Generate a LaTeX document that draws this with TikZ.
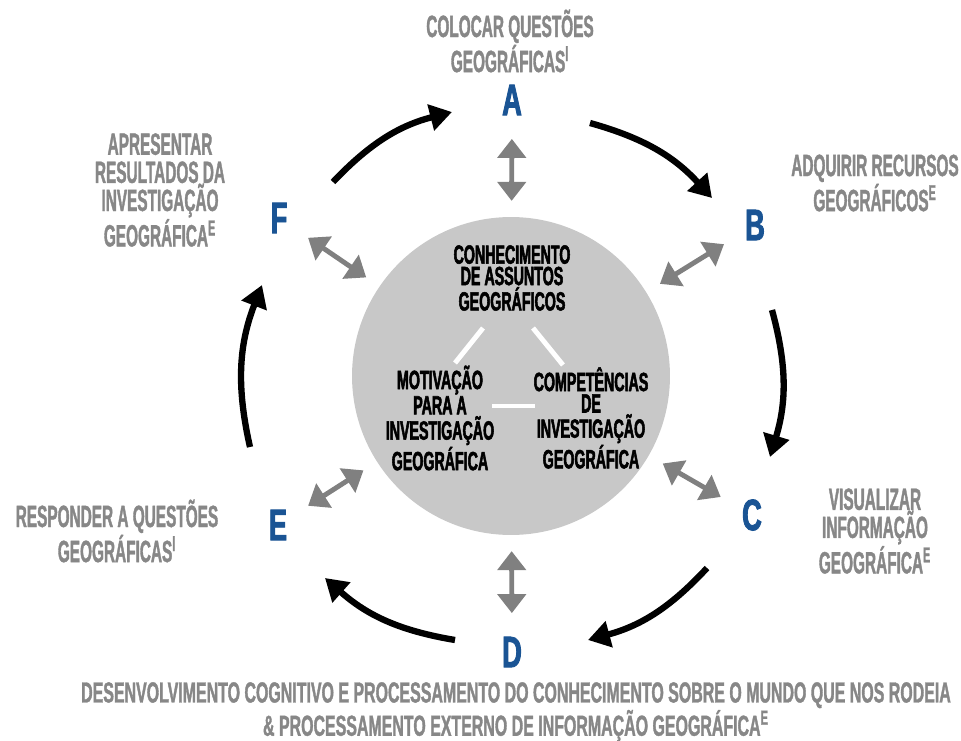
\documentclass[tikz,border=0pt]{standalone}
\usepackage{fontspec}
\newfontfamily\labelfont{Liberation Sans}[FakeStretch=0.5,FakeBold=1.2]
\newfontfamily\footfont{Liberation Sans}[FakeStretch=0.55,FakeBold=1.2]
\newfontfamily\innerfont{Liberation Sans}[FakeStretch=0.54,FakeBold=2]
\newfontfamily\letterfont{Liberation Sans}[FakeStretch=0.62,FakeBold=2]
\usetikzlibrary{arrows.meta,positioning}
\definecolor{stepblue}{RGB}{26,84,148}
\definecolor{labelgray}{RGB}{135,135,135}
\definecolor{hubgray}{RGB}{200,200,200}
\definecolor{linkgray}{RGB}{128,128,128}

\begin{document}
\begin{tikzpicture}[x=0.02cm,y=-0.02cm,
  letter/.style={text=stepblue,font=\letterfont\bfseries\fontsize{25}{25}\selectfont},
  outlabel/.style={text=labelgray,align=center,font=\labelfont\bfseries\fontsize{17.5}{16}\selectfont},
  inlabel/.style={text=black,align=center,font=\innerfont\bfseries\fontsize{15}{12.2}\selectfont},
  cyclearrow/.style={line width=3.6pt,-{Triangle[length=0.44cm,width=0.52cm]}},
  twoway/.style={linkgray,line width=2.8pt,{Triangle[length=0.38cm,width=0.56cm]}-{Triangle[length=0.38cm,width=0.56cm]},shorten <=10pt,shorten >=9pt},
  whitebar/.style={white,line width=2.8pt}]
\useasboundingbox (0,0) rectangle (961,741);

\node[circle,fill=hubgray,inner sep=0pt,minimum size=6.36cm] (hub) at (511,376) {};

\node[letter] (A) at (512,100) {A};
\node[letter] (B) at (755,225) {B};
\node[letter] (C) at (752,515) {C};
\node[letter] (D) at (512,652) {D};
\node[letter] (E) at (278,525) {E};
\node[letter] (F) at (279,218) {F};

\node[outlabel] (ask) at (510,41) {COLOCAR QUESTÕES\\GEOGRÁFICAS\textsuperscript{I}};
\node[outlabel] (acquire) at (875,183) {ADQUIRIR RECURSOS\\GEOGRÁFICOS\textsuperscript{E}};
\node[outlabel] (show) at (875,531) {VISUALIZAR\\INFORMAÇÃO\\GEOGRÁFICA\textsuperscript{E}};
\node[outlabel] (answer) at (117,531) {RESPONDER A QUESTÕES\\GEOGRÁFICAS\textsuperscript{I}};
\node[outlabel] (present) at (160,190) {APRESENTAR\\RESULTADOS DA\\INVESTIGAÇÃO\\GEOGRÁFICA\textsuperscript{E}};
\node[outlabel,font=\footfont\bfseries\fontsize{16.5}{14.6}\selectfont] (develop) at (516,712) {DESENVOLVIMENTO COGNITIVO E PROCESSAMENTO DO CONHECIMENTO SOBRE O MUNDO QUE NOS RODEIA\\\& PROCESSAMENTO EXTERNO DE INFORMAÇÃO GEOGRÁFICA\textsuperscript{E}};

\node[inlabel] (know) at (512,278) {CONHECIMENTO\\DE ASSUNTOS\\GEOGRÁFICOS};
\node[inlabel] (motive) at (440,418) {MOTIVAÇÃO\\PARA A\\INVESTIGAÇÃO\\GEOGRÁFICA};
\node[inlabel] (skill) at (591,418) {COMPETÊNCIAS\\DE\\INVESTIGAÇÃO\\GEOGRÁFICA};

\coordinate (kl1) at (483,328);
\coordinate (kl2) at (455,363);
\coordinate (kr1) at (533,328);
\coordinate (kr2) at (563,365);
\coordinate (mb1) at (492,406);
\coordinate (mb2) at (535,406);
\draw[whitebar] (kl1) -- (kl2);
\draw[whitebar] (kr1) -- (kr2);
\draw[whitebar] (mb1) -- (mb2);

\draw[twoway] (A) -- (hub);
\draw[twoway] (B) -- (hub);
\draw[twoway] (C) -- (hub);
\draw[twoway] (D) -- (hub);
\draw[twoway] (E) -- (hub);
\draw[twoway] (F) -- (hub);

\coordinate (fa1) at (333,182);
\coordinate (fa2) at (452,112);
\coordinate (ab1) at (590,123);
\coordinate (ab2) at (712,198);
\coordinate (bc1) at (772,310);
\coordinate (bc2) at (770,457);
\coordinate (cd1) at (707,568);
\coordinate (cd2) at (588,640);
\coordinate (de1) at (455,640);
\coordinate (de2) at (325,578);
\coordinate (ef1) at (250,447);
\coordinate (ef2) at (262,285);

\draw[cyclearrow] (fa1) to[bend left=16] (fa2);
\draw[cyclearrow] (ab1) to[bend left=16] (ab2);
\draw[cyclearrow] (bc1) to[bend left=16] (bc2);
\draw[cyclearrow] (cd1) to[bend left=16] (cd2);
\draw[cyclearrow] (de1) to[bend left=16] (de2);
\draw[cyclearrow] (ef1) to[bend left=17] (ef2);
\end{tikzpicture}
\end{document}
